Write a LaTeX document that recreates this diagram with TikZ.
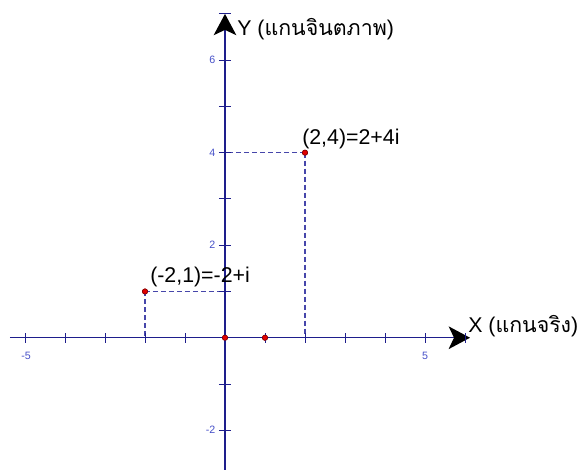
\documentclass[tikz,border=0pt]{standalone}
\usepackage{fontspec}
\setmainfont{Liberation Sans}
\newfontfamily\thaifont[Script=Thai]{Loma}
\usetikzlibrary{arrows.meta}
\definecolor{axisnavy}{RGB}{30,30,140}
\definecolor{guidenavy}{RGB}{70,70,170}
\definecolor{tickblue}{RGB}{70,80,200}
\definecolor{ptred}{RGB}{225,0,0}
\tikzset{
  axisline/.style={draw=axisnavy,line width=0.9pt,
    -{Stealth[black,length=16pt,width=17pt,inset=4pt]}},
  tickmark/.style={draw=axisnavy,line width=0.7pt},
  ticklabel/.style={font=\fontsize{8}{9}\selectfont,text=tickblue,inner sep=1pt},
  guide/.style={draw=guidenavy,dash pattern=on 3.75pt off 2.25pt,line width=0.8pt},
  dot/.style={circle,fill=ptred,draw=red!50!black,line width=0.4pt,
    inner sep=0pt,minimum size=4pt},
  lbl/.style={font=\fontsize{16}{18}\selectfont,inner sep=0pt,anchor=base west},
}

\begin{document}
\begin{tikzpicture}[x=30pt,y=34.7pt]
  \useasboundingbox (-5.625,-2.851) rectangle (9.025,7.3);
  % points
  \node[dot] (O) at (0,0) {};
  \node[dot] (U) at (1,0) {};
  \node[dot] (A) at (-2,1) {};
  \node[dot] (B) at (2,4) {};
  \coordinate (xs) at (-5.375,0);
  \coordinate (xe) at (6.125,0);
  \coordinate (ys) at (0,-2.9);
  \coordinate (ye) at (0,7.0);
  % dashed projections
  \draw[guide] (A.center) -- (A.center -| O.center);
  \draw[guide] (A.center) -- (A.center |- O.center);
  \draw[guide] (B.center) -- (B.center -| O.center);
  \draw[guide] (B.center) -- (B.center |- O.center);
  % axes
  \draw[axisline] (xs) -- (xe);
  \draw[axisline] (ys) -- (ye);
  \foreach \k in {-5,...,-1,1,2,...,6}
    \draw[tickmark] (\k,-0.11) -- (\k,0.11);
  \foreach \k in {-2,-1,1,2,...,7}
    \draw[tickmark] (-0.15,\k) -- (0.15,\k);
  \node[ticklabel] (xm5) at (-4.975,-0.4) {-5};
  \node[ticklabel] (xp5) at (5,-0.4) {5};
  \foreach \k in {6,4,2,-2}
    \node[ticklabel,anchor=east] (y\k) at (-0.2,\k) {\k};
  % redraw dots on top
  \foreach \p in {O,U,A,B}
    \node[dot] at (\p) {};
  % labels
  \node[lbl] (Alabel) at (-1.875,1.19) {(-2,1)=-2+i};
  \node[lbl] (Blabel) at (1.925,4.17) {(2,4)=2+4i};
  \node[lbl] (ylabel) at (0.3,6.54) {Y ({\thaifont แกนจินตภาพ})};
  \node[lbl] (xlabel) at (6.075,0.108) {X ({\thaifont แกนจริง})};
\end{tikzpicture}
\end{document}
